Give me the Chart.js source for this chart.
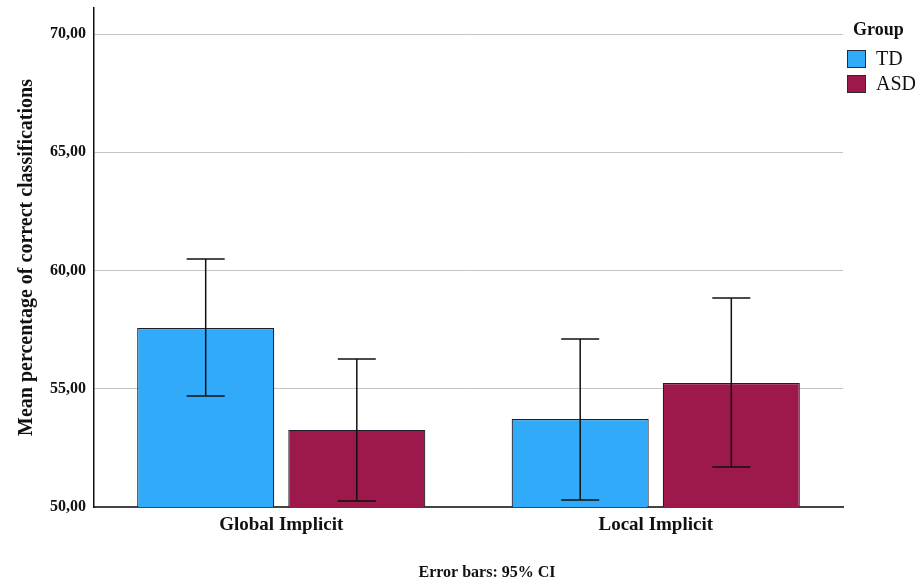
<!DOCTYPE html>
<html>
<head>
<meta charset="utf-8">
<script src="https://cdn.jsdelivr.net/npm/chart.js@4/dist/chart.umd.min.js"></script>
<style>
  html, body { margin: 0; padding: 0; background: #fff; }
  #wrap { width: 919px; height: 584px; position: relative; }
</style>
</head>
<body>
<div id="wrap"><canvas id="chart"></canvas></div>
<script>
/* Data */
var categories = ['Global Implicit', 'Local Implicit'];
var groups = ['TD', 'ASD'];
var tdMeans = [57.57, 53.72];
var tdLow = [54.69, 50.30];
var tdHigh = [60.49, 57.10];
var asdMeans = [53.26, 55.24];
var asdLow = [50.25, 51.69];
var asdHigh = [56.26, 58.84];
var yTicks = [50, 55, 60, 65, 70];

var serif = '"Liberation Serif", "DejaVu Serif", serif';
var colors = ['#30aaf9', '#9e194b'];

/* Draws the 95% CI whiskers for every bar */
var errorBars = {
  id: 'errorBars',
  afterDatasetsDraw: function(chart) {
    var ctx = chart.ctx;
    var y = chart.scales.y;
    var lows = [tdLow, asdLow];
    var highs = [tdHigh, asdHigh];
    ctx.save();
    ctx.strokeStyle = '#111';
    ctx.lineWidth = 1.5;
    chart.data.datasets.forEach(function(ds, di) {
      chart.getDatasetMeta(di).data.forEach(function(bar, i) {
        var x = bar.x;
        var top = y.getPixelForValue(highs[di][i]);
        var bot = y.getPixelForValue(lows[di][i]);
        ctx.beginPath();
        ctx.moveTo(x, top); ctx.lineTo(x, bot);
        ctx.moveTo(x - 19, top); ctx.lineTo(x + 19, top);
        ctx.moveTo(x - 19, bot); ctx.lineTo(x + 19, bot);
        ctx.stroke();
      });
    });
    ctx.restore();
  }
};

/* Legend on the right and the footnote */
var extras = {
  id: 'extras',
  afterDraw: function(chart) {
    var ctx = chart.ctx;
    ctx.save();
    ctx.fillStyle = '#111';
    ctx.textBaseline = 'middle';
    ctx.font = 'bold 18px ' + serif;
    ctx.textAlign = 'left';
    ctx.fillText('Group', 853, 30);

    ctx.font = '20px ' + serif;
    groups.forEach(function(g, i) {
      var top = 50 + i * 25;
      ctx.fillStyle = colors[i];
      ctx.fillRect(847, top, 19, 18);
      ctx.strokeStyle = '#2a2a35';
      ctx.lineWidth = 1;
      ctx.strokeRect(847.5, top + 0.5, 18, 17);
      ctx.fillStyle = '#111';
      ctx.fillText(g, 876, top + 10);
    });

    ctx.font = 'bold 16px ' + serif;
    ctx.textAlign = 'center';
    ctx.fillText('Error bars: 95% CI', 487, 573);
    ctx.restore();
  }
};

var ctx = document.getElementById('chart');
var myChart = new Chart(ctx, {
  type: 'bar',
  data: {
    labels: categories,
    datasets: [
      { label: groups[0], data: tdMeans, backgroundColor: colors[0] },
      { label: groups[1], data: asdMeans, backgroundColor: colors[1] }
    ]
  },
  options: {
    responsive: true,
    maintainAspectRatio: false,
    animation: false,
    layout: { padding: { top: 8, right: 76, bottom: 0, left: 0 } },
    datasets: {
      bar: {
        categoryPercentage: 0.807,
        barPercentage: 0.907,
        borderColor: '#1e1e2a',
        borderWidth: 1.2,
        borderSkipped: false
      }
    },
    plugins: {
      legend: { display: false },
      tooltip: { enabled: false }
    },
    scales: {
      x: {
        grid: { display: false, drawTicks: false },
        border: { display: true, color: '#444', width: 2 },
        ticks: {
          padding: 7,
          color: '#111',
          font: { family: serif, size: 19, weight: 'bold' }
        },
        afterFit: function(scale) {
          scale.height = 77;
          scale.paddingLeft = 0;
          scale.paddingRight = 0;
        }
      },
      y: {
        min: 50,
        max: 71.1,
        afterBuildTicks: function(axis) {
          axis.ticks = yTicks.map(function(v) { return { value: v }; });
        },
        grid: { color: '#c4c4c4', lineWidth: 1, drawTicks: false },
        border: { display: true, color: '#111', width: 1.5 },
        ticks: {
          padding: 8,
          color: '#111',
          font: { family: serif, size: 16, weight: 'bold' },
          callback: function(v) { return v.toFixed(2).replace('.', ','); }
        },
        title: {
          display: true,
          text: 'Mean percentage of correct classifications',
          color: '#111',
          padding: { top: 15, bottom: 0 },
          font: { family: serif, size: 20, weight: 'bold' }
        },
        afterFit: function(scale) {
          scale.width = 94;
          scale.paddingTop = 0;
          scale.paddingBottom = 0;
        }
      }
    }
  },
  plugins: [errorBars, extras]
});
</script>
</body>
</html>
